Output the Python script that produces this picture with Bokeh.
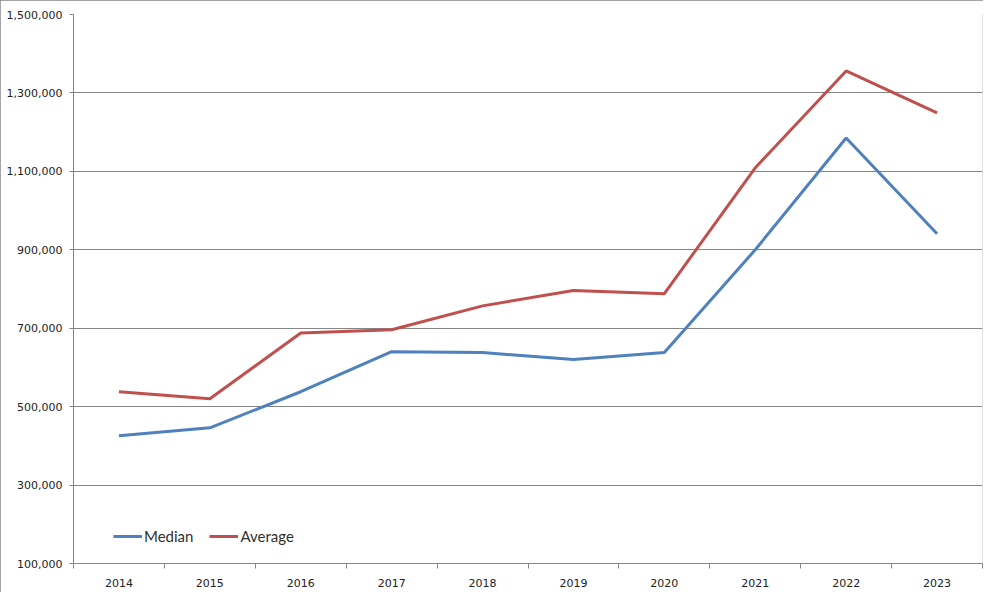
from bokeh.plotting import figure
from bokeh.models import (Range1d, FixedTicker, NumeralTickFormatter, Legend,
                          LegendItem)
from bokeh.embed import file_html
from bokeh.resources import INLINE

years = ["2014", "2015", "2016", "2017", "2018", "2019", "2020", "2021", "2022", "2023"]
median = [426000, 446000, 538000, 640000, 638000, 620000, 638000, 900000, 1185000, 941000]
average = [538000, 520000, 688000, 696000, 757000, 796000, 788000, 1109000, 1356000, 1249000]
y_ticks = [100000, 300000, 500000, 700000, 900000, 1100000, 1300000, 1500000]

xs = [i + 0.5 for i in range(len(years))]

W, H = 983, 592
GRAY = "#868686"
FONT = "DejaVu Sans"

p = figure(width=W, height=H, output_backend="svg", toolbar_location=None,
           x_range=Range1d(0, len(years)), y_range=Range1d(y_ticks[0], y_ticks[-1]),
           min_border_left=73, min_border_right=1, min_border_top=14, min_border_bottom=29,
           styles={"outline": "1px solid " + GRAY, "outline-offset": "-1px"})
p.outline_line_color = None
p.background_fill_color = "white"
p.border_fill_color = "white"

# x axis: labels at category centres, ticks at boundaries
p.xaxis.ticker = FixedTicker(ticks=xs, minor_ticks=list(range(len(years) + 1)))
p.xaxis.major_label_overrides = {x: y for x, y in zip(xs, years)}
p.xaxis.major_tick_line_color = None
p.xaxis.minor_tick_line_color = GRAY
p.xaxis.minor_tick_in = 0
p.xaxis.minor_tick_out = 5
p.xaxis.axis_line_color = GRAY
p.xaxis.major_label_text_font = FONT
p.xaxis.major_label_text_font_size = "11px"
p.xaxis.major_label_text_color = "#222222"
p.xaxis.major_label_standoff = 9
p.xgrid.grid_line_color = None

p.yaxis.ticker = FixedTicker(ticks=y_ticks, minor_ticks=[])
p.yaxis.formatter = NumeralTickFormatter(format="0,0")
p.yaxis.major_tick_line_color = GRAY
p.yaxis.major_tick_in = 0
p.yaxis.major_tick_out = 4
p.yaxis.minor_tick_line_color = None
p.yaxis.axis_line_color = GRAY
p.yaxis.major_label_text_font = FONT
p.yaxis.major_label_text_font_size = "11px"
p.yaxis.major_label_text_color = "#222222"
p.yaxis.major_label_standoff = 7
p.ygrid.grid_line_color = GRAY
p.ygrid.grid_line_width = 1

r1 = p.line(xs, median, line_color="#4F81BD", line_width=3)
r2 = p.line(xs, average, line_color="#C0504D", line_width=3)

legend = Legend(items=[LegendItem(label="Median", renderers=[r1]),
                       LegendItem(label="Average", renderers=[r2])],
                location=(40, 17), orientation="horizontal",
                padding=0, margin=0, spacing=16, label_standoff=2,
                glyph_width=29, glyph_height=20, label_height=20,
                label_text_font="Lato", label_text_font_size="15px",
                label_text_color="#303030",
                background_fill_alpha=0, border_line_color=None)
p.add_layout(legend)

open("out.html", "w").write(file_html(p, INLINE))
